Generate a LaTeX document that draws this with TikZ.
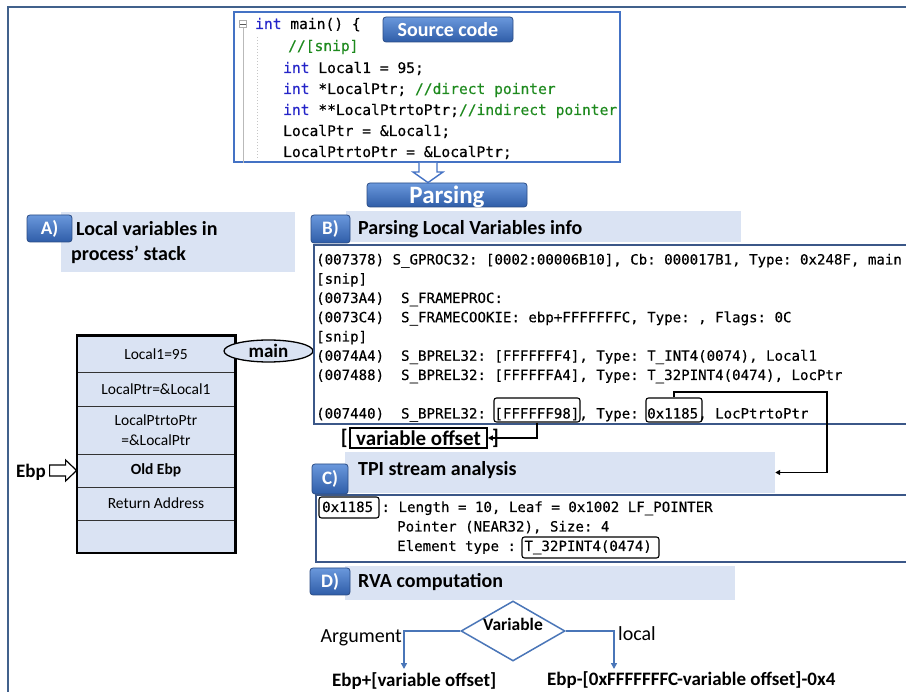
\documentclass[tikz,border=0pt]{standalone}
\usepackage{fontspec}
\setmainfont{Carlito}
\newfontfamily\codefont[FakeBold=0.35]{DejaVu Sans Mono}
\usetikzlibrary{shapes.geometric,arrows.meta,calc}
\AtBeginDocument{\frenchspacing}

\definecolor{framecol}{HTML}{41618C}
\definecolor{srcborder}{HTML}{4472C4}
\definecolor{boxborder}{HTML}{3B5788}
\definecolor{band}{HTML}{DAE3F3}
\definecolor{btntop}{HTML}{6A98DC}
\definecolor{btnbot}{HTML}{2F5DA8}
\definecolor{btnedge}{HTML}{2B4C85}
\definecolor{kw}{HTML}{2323C8}
\definecolor{cm}{HTML}{1E8A1E}
\definecolor{flowblue}{HTML}{4A76B8}

\tikzset{
  btn/.style={draw=btnedge, line width=0.8pt, top color=btntop, bottom color=btnbot,
    rounded corners=3pt, text=white, font=\bfseries\fontsize{19}{19}\selectfont, inner sep=0pt},
  bandbox/.style={fill=band, draw=none, inner sep=0pt},
  head/.style={font=\bfseries\fontsize{20}{22}\selectfont, anchor=base west, inner sep=0pt},
  code/.style={font=\codefont\fontsize{14.1}{16}\selectfont, anchor=base west, inner sep=0pt},
  src/.style={font=\codefont\fontsize{14.6}{16}\selectfont, anchor=base west, inner sep=0pt},
  hl/.style={draw=black, line width=1.1pt, rounded corners=2.5pt, inner sep=0pt},
  codebox/.style={draw=boxborder, line width=1.2pt, inner sep=0pt},
  cellrow/.style={draw=black!80, line width=0.8pt, minimum width=158, inner sep=0pt,
    fill=band, align=center, font=\fontsize{15.5}{20}\selectfont},
  conn/.style={black, line width=1.4pt, -{Triangle[length=5pt,width=5pt]}},
  flow/.style={flowblue, line width=1.5pt, -{Triangle[length=6pt,width=6pt]}},
}

\begin{document}
\begin{tikzpicture}[x=1pt,y=-1pt]
\useasboundingbox (0,0) rectangle (906,692);
\clip (0,0) rectangle (906,692);
\fill[white] (0,0) rectangle (906,692);

% outer frame
\coordinate (frbl) at (8,700);
\coordinate (frtl) at (8,7);
\coordinate (frtr) at (915,7);
\draw[framecol, line width=2.2pt] (frbl) -- (frtl) -- (frtr);

% ---------- source code ----------
\node[draw=srcborder, line width=1.8pt, minimum width=386, minimum height=150, inner sep=0pt] (srcbox) at (427,87) {};
\node[draw=gray!65, fill=white, line width=0.6pt, minimum size=7.5, inner sep=0pt] (fold) at (243,24) {};
\draw[gray!70!black, line width=0.8pt] ($(fold.west)+(1.5,0)$) -- ($(fold.east)+(-1.5,0)$);
\draw[gray!55, line width=1pt] (fold.south) -- (fold.south |- srcbox.south);
\coordinate (dottop) at (257,37);
\coordinate (dotbot) at (257,160);
\draw[gray!45, dash pattern=on 1.5pt off 1.5pt, line width=0.6pt] (dottop) -- (dotbot);

\node[src] (s1) at (255,29) {\textcolor{kw}{int} main() \{};
\node[src] (s2) at (288,51) {\textcolor{cm}{//[snip]}};
\node[src] (s3) at (283,73) {\textcolor{kw}{int} Local1 = 95;};
\node[src] (s4) at (283,94) {\textcolor{kw}{int} *LocalPtr; \textcolor{cm}{//direct pointer}};
\node[src] (s5) at (283,115) {\textcolor{kw}{int} **LocalPtrtoPtr;\textcolor{cm}{//indirect pointer}};
\node[src] (s6) at (283,136) {LocalPtr = \&Local1;};
\node[src] (s7) at (283,157) {LocalPtrtoPtr = \&LocalPtr;};

\node[btn, minimum width=130, minimum height=25, font=\bfseries\fontsize{20}{20}\selectfont] (srcbtn) at (448,29.5) {Source code};

% ---------- parsing ----------
\node[btn, minimum width=160, minimum height=24] (parsebtn) at (447,195) {};
\node[font=\bfseries\fontsize{25}{25}\selectfont, text=white, anchor=base, inner sep=0pt] (parsetxt) at (447,204) {Parsing};
\coordinate (arrtop) at (428,163);
\coordinate (arrtip) at (parsebtn.north -| arrtop);
\filldraw[fill=white, draw=srcborder, line width=1.4pt, line join=miter]
  ($(arrtop)+(-9,0)$) -- ++(0,9) -- ++(-6,0) -- (arrtip) -- ($(arrtop)+(15,9)$) -- ++(-6,0) -- ($(arrtop)+(9,0)$);

% ---------- A) stack ----------
\node[bandbox, minimum width=234, minimum height=60] (aband) at (178,242) {};
\node[btn, minimum width=45, minimum height=27] (abtn) at (49.5,228.5) {A)};
\node[head] (ahead1) at (76,236) {Local variables in};
\node[head] (ahead2) at (71,260.5) {process’ stack};

\node[cellrow, minimum height=36] (r1) at (156,354) {Local1=95};
\node[cellrow, minimum height=34] (r2) at (156,389) {LocalPtr=\&Local1};
\node[cellrow, minimum height=48] (r3) at (156,430) {LocalPtrtoPtr\\=\&LocalPtr};
\node[cellrow, minimum height=33] (r4) at (156,470.5) {\bfseries Old Ebp};
\node[cellrow, minimum height=33] (r5) at (156,503.5) {Return Address};
\node[cellrow, minimum height=33] (r6) at (156,536.5) {};
\draw[black, line width=2.2pt] (r1.north west) rectangle (r6.south east);

\node[ellipse, draw=black, line width=1.3pt, fill=band, minimum width=89, minimum height=22, inner sep=0pt,
  font=\bfseries\fontsize{19}{19}\selectfont] (mainell) at (268.5,351) {main};

\node[font=\bfseries\fontsize{19}{19}\selectfont, anchor=base west, inner sep=0pt] (ebplbl) at (16,478) {Ebp};
\filldraw[fill=white, draw=black, line width=1.2pt, line join=miter]
  ($(r4.west)+(-27,-5.5)$) -- ++(16,0) -- ++(0,-5) -- (r4.west) -- ($(r4.west)+(-11,10.5)$)
  -- ++(0,-5) -- ($(r4.west)+(-27,5.5)$) -- cycle;

% ---------- B) parsing local variables ----------
\node[bandbox, minimum width=395, minimum height=31] (bband) at (543.5,226.5) {};
\node[btn, minimum width=39, minimum height=28] (bbtn) at (330.5,229) {B)};
\node[head] (bhead) at (358,235) {Parsing Local Variables info};

\node[codebox, minimum width=646, minimum height=179] (bbox) at (637,334.5) {};
\node[code] (b1) at (316,264.5) {(007378) S\_GPROC32: [0002:00006B10], Cb: 000017B1, Type: 0x248F, main};
\node[code] (b2) at (316,283.75) {[snip]};
\node[code] (b3) at (316,303) {(0073A4)\ \ S\_FRAMEPROC:};
\node[code] (b4) at (316,322.25) {(0073C4)\ \ S\_FRAMECOOKIE: ebp+FFFFFFFC, Type: , Flags: 0C};
\node[code] (b5) at (316,341.5) {[snip]};
\node[code] (b6) at (316,360.75) {(0074A4)\ \ S\_BPREL32: [FFFFFFF4], Type: T\_INT4(0074), Local1};
\node[code] (b7) at (316,380) {(007488)\ \ S\_BPREL32: [FFFFFFA4], Type: T\_32PINT4(0474), LocPtr};
\node[code] (b9) at (316,418.5) {(007440)\ \ S\_BPREL32: [FFFFFF98], Type: 0x1185, LocPtrtoPtr};

\node[hl, minimum width=86, minimum height=24] (h98) at (537,410) {};
\node[hl, minimum width=56, minimum height=24] (h1185) at (674,410) {};

\node[font=\bfseries\fontsize{21}{21}\selectfont, anchor=base east, inner sep=0pt] (lbr) at (348,445) {[};
\node[draw=black, line width=1.6pt, minimum width=137, minimum height=20, inner sep=0pt,
  font=\bfseries\fontsize{21}{21}\selectfont] (varoff) at (418.5,438) {variable offset};
\node[font=\bfseries\fontsize{21}{21}\selectfont, anchor=base west, inner sep=0pt] (rbr) at (492,445) {]};
\draw[conn] (h98.south) |- (varoff.east);

% ---------- C) TPI stream ----------
\node[bandbox, minimum width=430, minimum height=41] (cband) at (560,472.5) {};
\node[btn, minimum width=36, minimum height=30] (cbtn) at (330,479) {C)};
\node[head] (chead) at (358,475.5) {TPI stream analysis};

\coordinate (cturn) at (827,392);
\draw[conn] (h1185.north) |- (cturn) |- (cband.east);

\node[codebox, minimum width=644, minimum height=67] (cbox) at (638,528.5) {};
\node[code] (c1) at (322,512) {0x1185 : Length = 10, Leaf = 0x1002 LF\_POINTER};
\node[code] (c2) at (397,531.5) {Pointer (NEAR32), Size: 4};
\node[code] (c3) at (397,551) {Element type : T\_32PINT4(0474)};
\node[hl, minimum width=60, minimum height=21] (h0x) at (349,507.5) {};
\node[hl, minimum width=137, minimum height=21] (hT) at (590.5,547.5) {};

% ---------- D) RVA computation ----------
\node[bandbox, minimum width=390, minimum height=34] (dband) at (540,583) {};
\node[btn, minimum width=40, minimum height=27] (dbtn) at (330,581.5) {D)};
\node[head] (dhead) at (358,588) {RVA computation};

\node[diamond, draw=flowblue, line width=1.5pt, fill=white, minimum width=104, minimum height=60, inner sep=0pt] (dec) at (513,631) {};
\node[font=\bfseries\fontsize{17.5}{17.5}\selectfont, inner sep=0pt] (declbl) at (513,624) {Variable};

\coordinate (argend) at (404,669);
\coordinate (locend) at (614,669);
\draw[flow] (dec.west) -| (argend);
\draw[flow] (dec.east) -| (locend);

\node[font=\fontsize{20}{20}\selectfont, anchor=base east, inner sep=0pt] (arglbl) at (402,642) {Argument};
\node[font=\fontsize{20}{20}\selectfont, anchor=base west, inner sep=0pt] (loclbl) at (618,641) {local};

\node[font=\bfseries\fontsize{19}{19}\selectfont, anchor=base west, inner sep=0pt] (argres) at (332,686) {Ebp+[variable offset]};
\node[font=\bfseries\fontsize{19}{19}\selectfont, anchor=base west, inner sep=0pt] (locres) at (547,685) {Ebp-[0xFFFFFFFC-variable offset]-0x4};
\end{tikzpicture}
\end{document}
